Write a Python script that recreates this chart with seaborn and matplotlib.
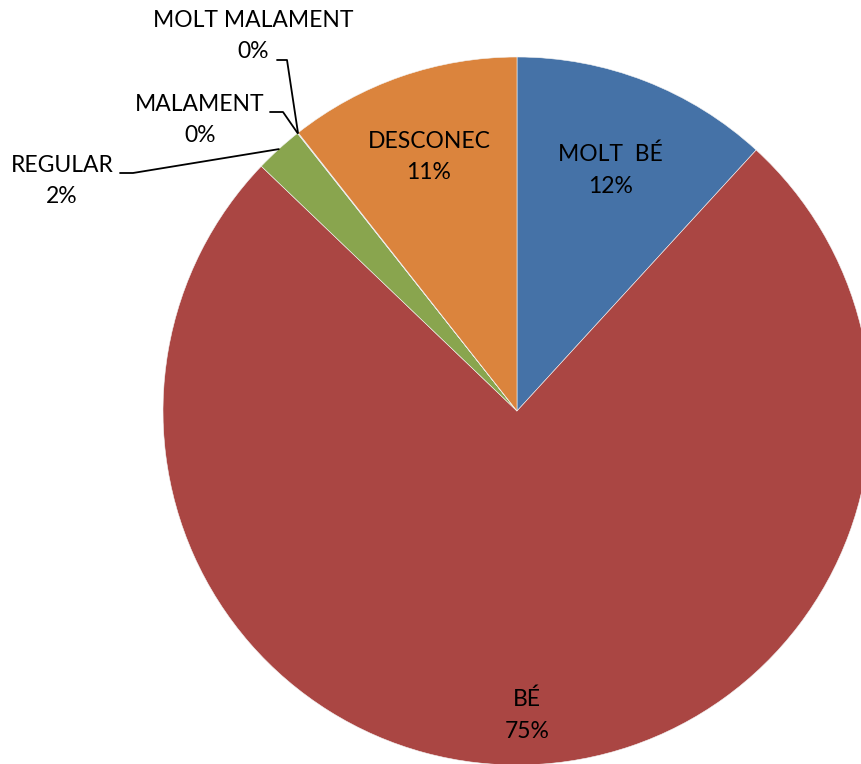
import numpy as np
import matplotlib
matplotlib.use("Agg")
import matplotlib.pyplot as plt
import seaborn as sns

# slices, clockwise from 12 o'clock
categories = ["MOLT  BÉ", "BÉ", "REGULAR", "MALAMENT", "MOLT MALAMENT", "DESCONEC"]
values = [11.8, 75.3, 2.2, 0.02, 0.02, 10.6]
slice_colors = ["#4572A7", "#AA4643", "#89A54E", "#71588F", "#4198AF", "#DB843D"]

sns.set_style("white")
plt.rcParams['font.family'] = ['Lato', 'DejaVu Sans']

W, H = 861, 764
fig = plt.figure(figsize=(W / 100, H / 100), dpi=100)
ax = fig.add_axes([0, 0, 1, 1])

cx, cy, r = 517, H - 411, 354
wedges, _ = ax.pie(values, colors=slice_colors, startangle=90, counterclock=False,
                   center=(cx, cy), radius=r,
                   wedgeprops=dict(edgecolor="#f4f4f4", linewidth=0.4))
ax.set_xlim(0, W)
ax.set_ylim(0, H)
ax.set_aspect("equal")
ax.axis("off")

total = sum(values)
pct = [f"{v / total * 100:.0f}%" for v in values]
fs = 16.5
ls = 1.6


def point_on(w, frac):
    ang = np.deg2rad((w.theta1 + w.theta2) / 2)
    return cx + frac * r * np.cos(ang), cy + frac * r * np.sin(ang)


# labels inside the big slices
for i, frac in [(0, 0.73), (1, 0.86), (5, 0.76)]:
    x, y = point_on(wedges[i], frac)
    ax.text(x, y, f"{categories[i]}\n{pct[i]}", ha="center", va="center",
            fontsize=fs, linespacing=ls, color="black")

# outside labels with leader lines: (index, text pos px, elbow points px)
outside = [
    (2, (62, 181), [(120, 173), (133, 173)]),
    (3, (200, 120), [(270, 112), (283, 112)]),
    (4, (253, 36), [(277, 60), (287, 60)]),
]
for i, (tx, ty), elbow in outside:
    ax.text(tx, H - ty, f"{categories[i]}\n{pct[i]}", ha="center", va="center",
            fontsize=fs, linespacing=ls, color="black")
    ex, ey = point_on(wedges[i], 1.0)
    xs = [p[0] for p in elbow] + [ex]
    ys = [H - p[1] for p in elbow] + [ey]
    ax.plot(xs, ys, color="black", linewidth=1.3)

fig.savefig("out.png", dpi=100)
